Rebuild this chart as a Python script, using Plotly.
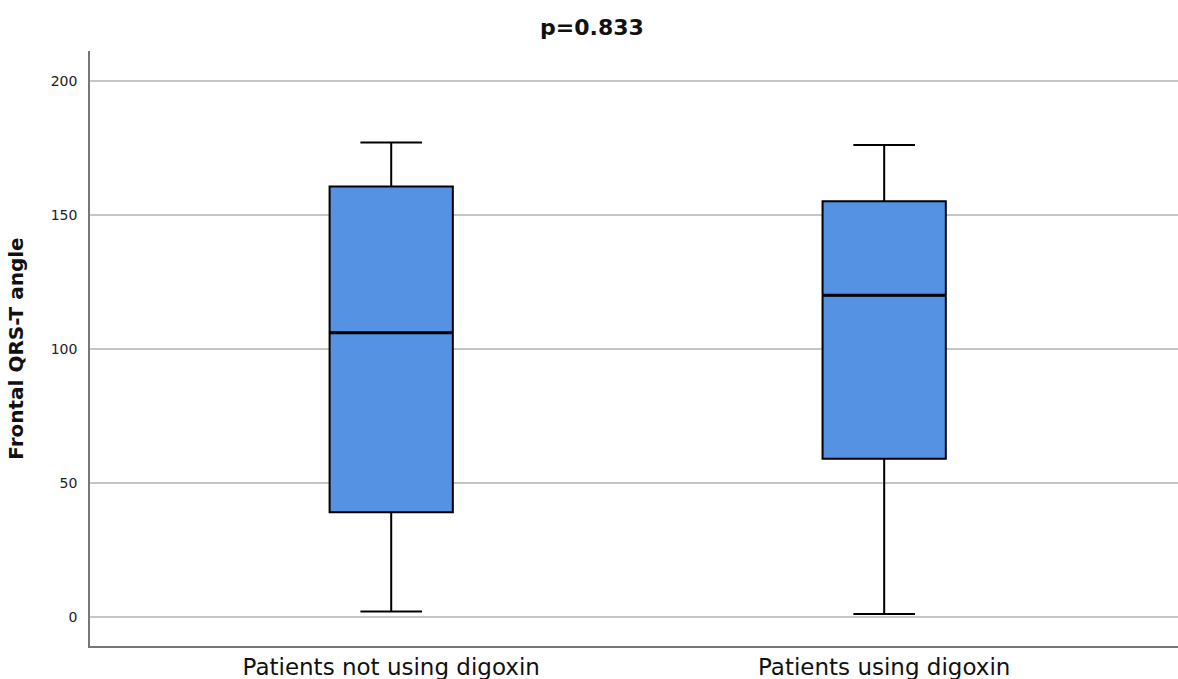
import plotly.graph_objects as go

# Frontal QRS-T angle by digoxin use (five-number summaries)
groups = ["Patients not using digoxin", "Patients using digoxin"]
lower_whisker = [2, 1]
q1_vals = [39, 59]
medians = [106, 120]
q3_vals = [160.5, 155]
upper_whisker = [177, 176]

title_text = "p=0.833"
y_title = "Frontal QRS-T angle"
y_ticks = [0, 50, 100, 150, 200]

BOX_WIDTH = 0.25
FONT = "DejaVu Sans, Verdana, sans-serif"

fig = go.Figure()
fig.add_trace(go.Box(
    x=groups,
    lowerfence=lower_whisker,
    q1=q1_vals,
    median=medians,
    q3=q3_vals,
    upperfence=upper_whisker,
    width=BOX_WIDTH,
    whiskerwidth=0.5,
    fillcolor="#5592e4",
    line=dict(color="#000000", width=2),
    boxpoints=False,
    hoverinfo="skip",
    showlegend=False,
))

# heavier median lines drawn on top of each box
for i, m in enumerate(medians):
    fig.add_shape(
        type="line", xref="x", yref="y",
        x0=i - BOX_WIDTH / 2, x1=i + BOX_WIDTH / 2, y0=m, y1=m,
        line=dict(color="#000000", width=3),
    )

fig.update_layout(
    width=1178,
    height=679,
    margin=dict(l=90, r=0, t=51, b=33),
    plot_bgcolor="#ffffff",
    paper_bgcolor="#ffffff",
    font=dict(family=FONT, color="#222222"),
    title=dict(
        text=f"<b>{title_text}</b>",
        x=592 / 1178, xanchor="center",
        y=1 - 27 / 679, yanchor="middle", yref="container",
        font=dict(size=22, color="#111111"),
    ),
    xaxis=dict(
        type="category",
        range=[-0.611, 1.596],
        showgrid=False,
        showline=True,
        linecolor="#777777",
        linewidth=1.5,
        ticks="",
        tickfont=dict(size=23, color="#111111"),
        zeroline=False,
    ),
    yaxis=dict(
        range=[-10.9, 211.1],
        tickvals=y_ticks,
        showgrid=True,
        gridcolor="#c6c6c6",
        gridwidth=1.5,
        showline=True,
        linecolor="#777777",
        linewidth=1.5,
        ticks="",
        ticklabelstandoff=8,
        tickfont=dict(size=14, color="#222222"),
        zeroline=False,
        title=dict(
            text=f"<b>{y_title}</b>",
            font=dict(size=20, color="#111111"),
            standoff=22,
        ),
    ),
)

fig.write_html("out.html")
